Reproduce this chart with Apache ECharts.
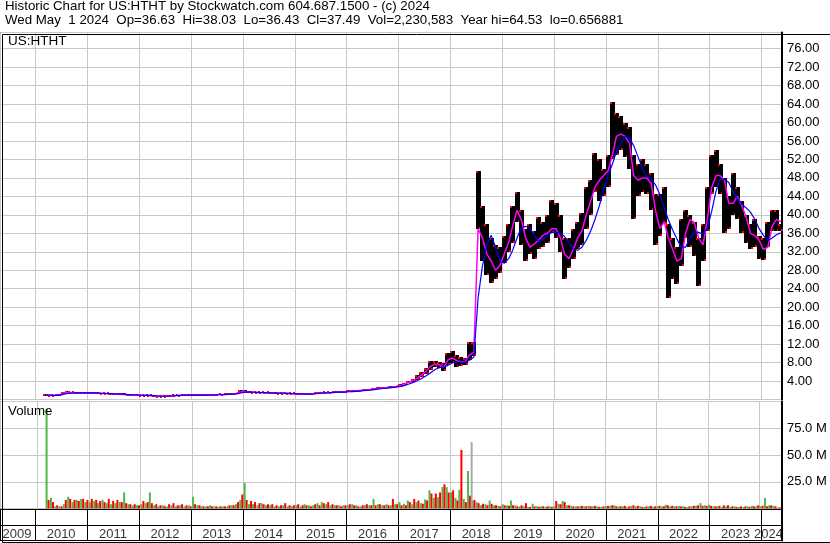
<!DOCTYPE html>
<html><head><meta charset="utf-8">
<script src="https://cdn.jsdelivr.net/npm/echarts@6/dist/echarts.min.js"></script>
<style>html,body{margin:0;padding:0;background:#fff;}#c{width:830px;height:543px;}</style>
</head><body><div id="c"></div>
<script>
// ---- Data (monthly, first month = March 2010) ----
const startYear = 2010, startMonth = 3;
const priceLow = [
 0.8,0.8,0.75,0.85,1.25,1.3,1.3,1.25,1.25,1.2,
 1.25,1.25,1.2,1.1,1.1,1.05,1.0,1.0,0.95,0.85,0.8,0.8,
 0.75,0.75,0.7,0.62,0.6,0.6,0.62,0.65,0.75,0.75,0.8,0.8,
 0.8,0.8,0.8,0.8,0.85,0.85,0.95,0.95,1.0,1.05,1.15,1.4,
 1.5,1.45,1.35,1.3,1.3,1.3,1.2,1.2,1.2,1.2,1.15,1.1,
 1.05,1.0,1.0,1.05,1.1,1.2,1.3,1.3,1.35,1.4,1.45,1.45,
 1.6,1.6,1.7,1.8,1.9,1.95,2.1,2.2,2.3,2.4,2.5,2.6,
 2.8,3.1,3.5,3.8,4.2,4.8,5.5,6.3,7.0,6.9,6.2,7.5,
 8.0,7.1,7.3,7.4,8.5,9.5,37,30,27,25.3,26,27.5,
 29.5,32,34,38.5,33.5,30,31.5,30.5,32.5,33,34,36,
 35,32,26,28.5,30.5,32.5,33.5,37,40,45,43,44,
 46,52,53,54,52.5,50,39,44,45,44.5,41,33.5,
 35.5,38,22,26,25,29,35,33,31,24.5,30,36.5,
 44.5,46,44.5,36,37,40,39,36,34,32.5,33,30.5,
 30.3,33,36.5,36.5,36.43];
const priceHigh = [
 1.1,1.05,1.0,1.1,1.6,1.75,1.7,1.65,1.6,1.55,
 1.6,1.6,1.55,1.45,1.45,1.4,1.35,1.35,1.3,1.15,1.1,1.1,
 1.05,1.05,1.0,0.9,0.85,0.85,0.85,0.9,1.05,1.05,1.1,1.1,
 1.1,1.1,1.1,1.1,1.15,1.15,1.25,1.25,1.3,1.35,1.5,1.95,
 1.95,1.85,1.7,1.65,1.65,1.6,1.55,1.55,1.5,1.5,1.45,1.4,
 1.35,1.3,1.3,1.35,1.4,1.55,1.65,1.65,1.7,1.75,1.8,1.8,
 1.95,1.95,2.05,2.15,2.25,2.3,2.45,2.6,2.7,2.8,2.9,3.0,
 3.3,3.6,4.0,4.5,5.2,6.0,6.8,8.3,8.4,8.1,7.8,10.0,
 10.4,9.6,9.2,9.0,12.5,12.5,49.6,42,38,35,33.5,33,
 35.5,38,42,45,41,37,38,36.5,39.5,38.5,40,43.2,
 42.5,40,35,35,37,38.5,40.5,46,47.5,53.5,52,50,
 53,64.5,62,61.5,60,59,53,51,52,51,49,44.5,
 44.5,46,38,35,33,39,41,40,38.5,35,38,46,
 53,54,51,48,44,49,46,43,40,38,39,35.5,
 35,38.5,41,41,38.03];
const maFast = [
 0.95,0.92,0.88,0.95,1.4,1.5,1.5,1.45,1.42,1.38,
 1.42,1.42,1.38,1.3,1.28,1.22,1.18,1.15,1.1,1.0,0.95,0.95,
 0.9,0.9,0.85,0.75,0.72,0.72,0.74,0.78,0.88,0.9,0.95,0.95,
 0.95,0.95,0.95,0.95,1.0,1.0,1.1,1.1,1.15,1.2,1.3,1.65,
 1.75,1.65,1.55,1.5,1.48,1.45,1.4,1.38,1.35,1.35,1.3,1.25,
 1.2,1.15,1.15,1.2,1.25,1.38,1.48,1.48,1.52,1.58,1.62,1.62,
 1.78,1.78,1.88,1.98,2.08,2.12,2.28,2.4,2.5,2.6,2.7,2.8,
 3.05,3.35,3.75,4.15,4.7,5.4,6.15,7.2,7.7,7.5,7.0,8.6,
 9.0,8.4,8.2,8.2,9.6,10.2,37,35,31.5,30,28,29,
 31.5,34,37.5,41,39,35,33,33.7,34.5,35.6,36,37,
 37,35,31.5,30.5,32.5,35,36.5,40,43,46,47.5,48.5,
 49.5,53,57,57.5,57,55.5,48.5,47.5,48,48,46.8,41,
 37,38.5,35,32.5,30,30.5,36,39,38.3,35,33.5,39,
 46,48.5,48.5,47.5,42.5,42.5,44,42,39.5,36,35.5,34.5,
 32.5,33,37.5,39,38.5];
const maSlow = [
 0.95,0.93,0.9,0.9,1.1,1.3,1.4,1.45,1.45,1.42,
 1.42,1.42,1.4,1.35,1.3,1.27,1.22,1.18,1.15,1.08,1.0,0.97,
 0.93,0.9,0.88,0.82,0.76,0.74,0.74,0.76,0.82,0.88,0.92,0.95,
 0.95,0.95,0.95,0.95,0.97,0.99,1.03,1.07,1.12,1.17,1.23,1.4,
 1.6,1.65,1.6,1.55,1.5,1.47,1.43,1.4,1.38,1.36,1.33,1.3,
 1.25,1.2,1.18,1.18,1.22,1.3,1.4,1.45,1.5,1.55,1.58,1.6,
 1.68,1.72,1.8,1.88,1.98,2.05,2.15,2.28,2.38,2.48,2.58,2.68,
 2.85,3.05,3.35,3.7,4.1,4.6,5.15,5.8,6.5,6.9,7.0,7.4,
 7.9,8.1,8.1,8.1,8.5,9.2,22,29,33.5,35.6,33,30,
 29.5,30.5,32.3,35,37.2,37.5,37.2,35.4,34.2,34.7,35.6,36.2,
 36.3,36,35.3,34,32.7,32.3,33,34.5,36.5,39,42,45.5,
 48.5,51,53.7,55.5,57,56.5,55,52.5,50,48.3,47.7,46.5,
 44.4,41.5,39,36.7,34.8,33,33,35,36.3,36.2,35.8,37,
 40.8,45.2,47.7,47.8,47,45,43.5,42.3,41.5,40.6,39,37,
 35.5,34.4,35,35.7,36.1];
// volume in millions
const volUp = [
 93,10,2,2,4,11,6,8,9,6,
 6,7,5,8,5,4,5,6,15,4,3,3,
 4,5,15,3,2,3,2,3,2,3,2,3,
 11,3,2,2,3,2,1.5,2,2,3,4,8,
 24,4,4,3,5,3,3,2,2,3,2,2,
 3,2,4,3,3,5,6,4,3,3,3,3,
 3,4,3,2,3,3,9,4,3,4,3,4,
 6,4.4,7.5,4,6,5,8.5,17,10,10.6,20,20,
 15,10,17.5,9,35,7.5,6,3,4,7.5,3,2.5,
 4,3,7.5,3,2,2,1.5,4.4,2,2,1.5,2,
 2,4.4,7,3,2.5,2,2,2,2.5,2,2,1.5,
 2,2.5,3,2,2,1.5,2.5,2,2,1.5,2,1.5,
 2,2,3.5,2,2,2.5,2,1.5,2,2.5,5,3,
 3.5,2,2,1.5,2,1.5,2,1.5,1.5,2,2.5,2,
 2,9.7,3,2.5,1];
const volDown = [
 8,6,3,2,8,9,8,7,9,8,
 9,8,7,6,9,7,8,6,5,4,4,3,
 7,6,5,4,3,2,4,5,3,4,3,2,
 4,3,2,2,2,2,2,2,3,3,6,13,
 8,7,6,5,4,4,4,3,3,5,3,3,
 4,3,3,2,4,3,5,6,4,3,2,3,
 4,3,2,3,4,3,3,4,3,3,9,4,
 3,3,6,9,7.5,4.4,7.5,14,14,15,22.6,15,
 17,7.5,54.7,6,12,8,5,4.4,3,4.4,3,2,
 3,2.5,3,2,3,5,1.5,2,1.5,2,2,1.5,
 7,4,6,3,2,2,2.5,2,2,2.5,1.5,2,
 2.5,3,2,2,2.5,2,3,2.5,1.5,2,2.5,2,
 2.5,2,3,2.5,2,2,1.5,2,2.5,3,2.5,2.5,
 2.5,2,2.5,3,3,2,1.5,2,2,1.5,2,3,
 2.5,2,3,2,1];
const volFlatDates = ['2018-06-01'];
const volFlat = [62];
const yearLabels = ['2009','2010','2011','2012','2013','2014','2015','2016','2017','2018','2019','2020','2021','2022','2023','2024'];
const priceTicks = {min: 0, max: 79.5, step: 4};
const volTicks = {min: 0, max: 100, step: 25};
const headerLine1 = 'Historic Chart for US:HTHT by Stockwatch.com 604.687.1500 - (c) 2024';
const headerLine2 = 'Wed May  1 2024  Op=36.63  Hi=38.03  Lo=36.43  Cl=37.49  Vol=2,230,583  Year hi=64.53  lo=0.656881';

// ---- Build ----
const monthTime = i => new Date(startYear, startMonth - 1 + i, 15).getTime();
const X_MIN = new Date(2009, 3, 30).getTime();
const X_MAX = new Date(2024, 4, 24).getTime();
const DAY = 864e5;
const FONT = '"Liberation Sans", Arial, Helvetica, sans-serif';

const barData = priceLow.map((l, i) => [monthTime(i), l, priceHigh[i]]);
const fastData = maFast.map((v, i) => [monthTime(i), v]);
const slowData = maSlow.map((v, i) => [monthTime(i), v]);
const upData = volUp.map((v, i) => [monthTime(i), v]);
const downData = volDown.map((v, i) => [monthTime(i), v]);
const flatData = volFlatDates.map((d, i) => { const p = d.split('-'); return [new Date(+p[0], +p[1]-1, +p[2]).getTime(), volFlat[i]]; });
const labelData = yearLabels.map((y, i) => {
  if (i === 0) return {value: [X_MIN, 6], name: y, label: {align: 'left', offset: [2, 0]}};
  if (i === yearLabels.length - 1) return {value: [X_MAX, 6], name: y, label: {align: 'right', offset: [1, 0]}};
  return {value: [new Date(+y, 6, 1).getTime(), 6], name: y};
});

function timeAxis(gridIndex, splitColor) {
  return {type: 'time', gridIndex, min: X_MIN, max: X_MAX, splitNumber: 15,
    minInterval: 365 * DAY, maxInterval: 366 * DAY,
    axisLine: {show: false}, axisTick: {show: false}, axisLabel: {show: false},
    splitLine: {show: !!splitColor, lineStyle: {color: splitColor || '#000', width: 1}}};
}

const GL = 0.5, GW = 781.5;
const option = {
  animation: false,
  backgroundColor: '#fff',
  grid: [
    {left: GL, width: GW, top: 32.5, height: 367, show: true, borderColor: '#000', borderWidth: 1, backgroundColor: 'transparent'},
    {left: GL, width: GW, top: 401.5, height: 107, show: true, borderColor: '#000', borderWidth: 1, backgroundColor: 'transparent'},
    {left: GL, width: GW, top: 509.5, height: 31, show: true, borderColor: '#000', borderWidth: 1, backgroundColor: 'transparent'}
  ],
  xAxis: [
    timeAxis(0, '#c8c8c8'),
    timeAxis(1, '#c8c8c8'),
    Object.assign(timeAxis(1, null), {show: true}),
    timeAxis(2, '#000')
  ],
  yAxis: [
    {type: 'value', gridIndex: 0, position: 'right', min: priceTicks.min, max: priceTicks.max, interval: priceTicks.step,
      axisLine: {show: true, onZero: false, lineStyle: {color: '#000', width: 2}}, axisTick: {show: false},
      axisLabel: {color: '#000', fontFamily: FONT, fontSize: 13, margin: 5, showMinLabel: false, showMaxLabel: false, formatter: v => v.toFixed(2)},
      splitLine: {lineStyle: {color: '#c8c8c8', width: 1}}},
    {type: 'value', gridIndex: 1, position: 'right', min: volTicks.min, max: volTicks.max, interval: volTicks.step,
      axisLine: {show: true, onZero: false, lineStyle: {color: '#000', width: 2}}, axisTick: {show: false},
      axisLabel: {color: '#000', fontFamily: FONT, fontSize: 13, margin: 5, showMinLabel: false, showMaxLabel: false, formatter: v => v.toFixed(1) + ' M'},
      splitLine: {lineStyle: {color: '#c8c8c8', width: 1}}},
    {type: 'value', gridIndex: 2, position: 'right', min: 0, max: 31, interval: 15.5,
      axisLine: {show: true, onZero: false, lineStyle: {color: '#000', width: 2}}, axisTick: {show: false},
      axisLabel: {show: false}, splitLine: {lineStyle: {color: '#000', width: 1}}}
  ],
  series: [
    {type: 'custom', name: 'Range', xAxisIndex: 0, yAxisIndex: 0, data: barData, encode: {x: 0, y: [1, 2]}, z: 2, clip: true,
      renderItem: (params, api) => {
        const t = api.value(0);
        const pl = api.coord([t, api.value(1)]);
        const ph = api.coord([t, api.value(2)]);
        const w = 5;
        const x = Math.round(pl[0] - w / 2);
        const yT = Math.round(ph[1]);
        const yB = Math.round(pl[1]);
        const h = Math.max(1, yB - yT);
        return {type: 'group', children: [
          {type: 'rect', shape: {x: x, y: yT, width: w, height: h}, style: {fill: '#000'}},
          {type: 'rect', shape: {x: x, y: yT, width: 2, height: 2}, style: {fill: '#ff0000'}},
          {type: 'rect', shape: {x: x + w - 2, y: yT + h - 2, width: 2, height: 2}, style: {fill: '#ff0000'}}
        ]};
      }},
    {type: 'line', name: 'MA fast', xAxisIndex: 0, yAxisIndex: 0, data: fastData, symbol: 'none', z: 3,
      lineStyle: {color: '#ff00ff', width: 1.5}},
    {type: 'line', name: 'MA slow', xAxisIndex: 0, yAxisIndex: 0, data: slowData, symbol: 'none', z: 4,
      lineStyle: {color: '#0000ff', width: 1.2}},
    {type: 'bar', name: 'Vol up', xAxisIndex: 1, yAxisIndex: 1, data: upData, barWidth: 2, barGap: '0%',
      itemStyle: {color: '#4cb848'}},
    {type: 'bar', name: 'Vol down', xAxisIndex: 1, yAxisIndex: 1, data: downData, barWidth: 2, barGap: '0%',
      itemStyle: {color: '#ff0000'}},
    {type: 'bar', name: 'Vol flat', xAxisIndex: 2, yAxisIndex: 1, data: flatData, barWidth: 2,
      itemStyle: {color: '#a8a8a8'}},
    {type: 'scatter', name: 'Years', xAxisIndex: 3, yAxisIndex: 2, data: labelData, symbolSize: 1,
      itemStyle: {color: 'rgba(0,0,0,0)'}, z: 10,
      label: {show: true, position: 'inside', formatter: p => p.name, color: '#000', fontFamily: FONT, fontSize: 13}}
  ],
  graphic: [
    {type: 'text', left: 5, top: 0, style: {text: headerLine1, font: '13.3px ' + FONT, fill: '#000'}},
    {type: 'text', left: 5, top: 14, style: {text: headerLine2, font: '13.3px ' + FONT, fill: '#000'}},
    {type: 'text', left: 8, top: 34, z: 20, style: {text: 'US:HTHT', font: '13.5px ' + FONT, fill: '#000'}},
    {type: 'text', left: 8, top: 405, z: 20, style: {text: 'Volume', font: '13.3px ' + FONT, fill: '#000'}},
    {type: 'rect', left: 0, top: 32, z: 30, shape: {x: 0.5, y: 0.5, width: 828, height: 508}, style: {fill: 'none', stroke: '#000', lineWidth: 1}}
  ]
};
const chart = echarts.init(document.getElementById('c'), null, {renderer: 'canvas'});
chart.setOption(option);
</script>
</body></html>
